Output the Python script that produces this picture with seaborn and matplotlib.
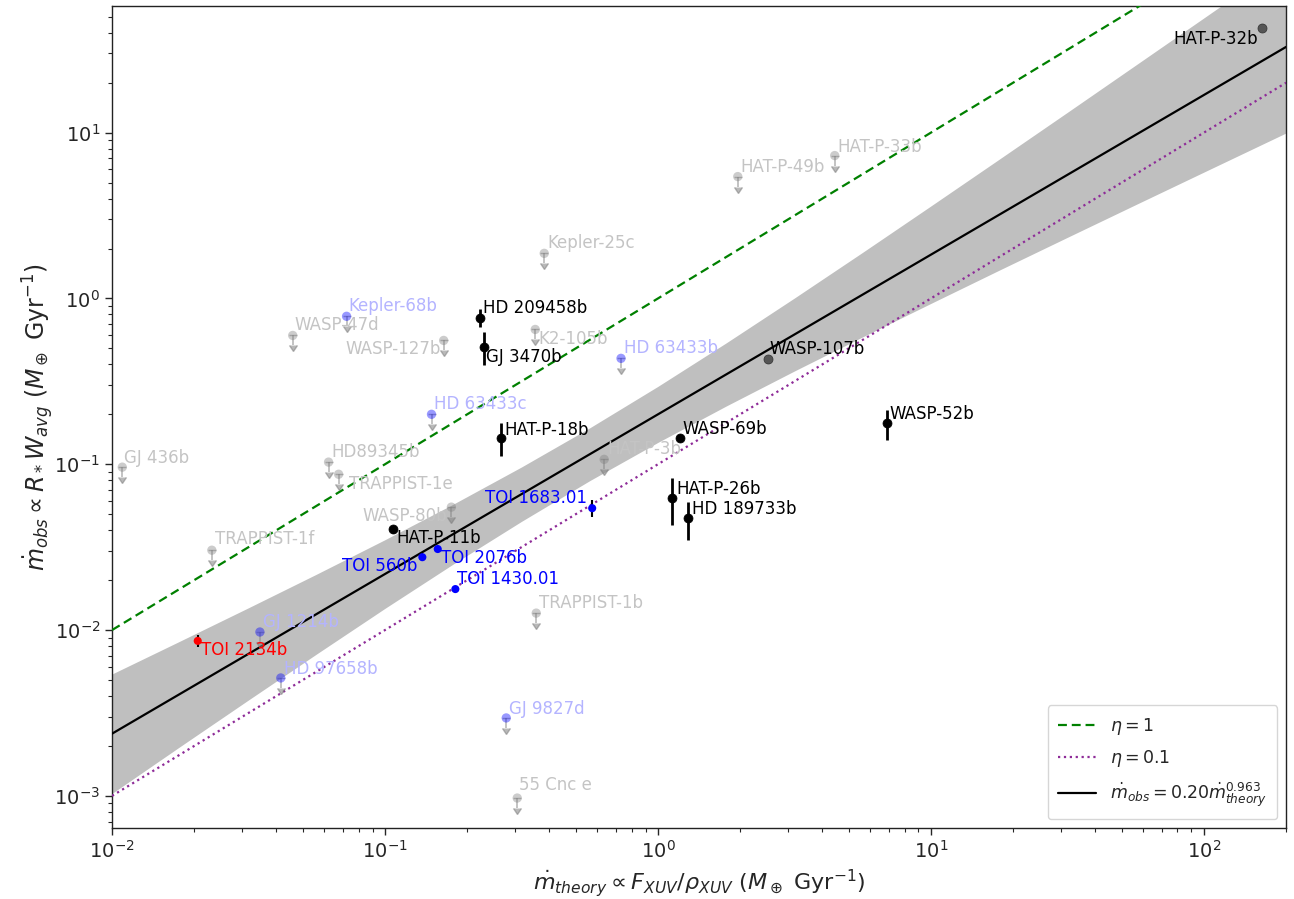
import numpy as np
import pandas as pd
import matplotlib
matplotlib.use("Agg")
import matplotlib.pyplot as plt
import seaborn as sns

# ---- measured outflow detections ------------------------------------------
det_names = ["HAT-P-32b", "HD 209458b", "GJ 3470b", "WASP-107b", "HAT-P-18b",
             "WASP-69b", "WASP-52b", "HAT-P-26b", "HD 189733b", "HAT-P-11b"]
det_x = [163.0, 0.222, 0.231, 2.52, 0.267, 1.20, 6.93, 1.125, 1.29, 0.107]
det_y = [42.9, 0.758, 0.507, 0.43, 0.1435, 0.1435, 0.177, 0.0624, 0.0473, 0.0406]
det_err_lo = [2.0, 0.089, 0.112, 0.02, 0.032, 0.005, 0.037, 0.0195, 0.0125, 0.002]
det_err_hi = [2.0, 0.100, 0.117, 0.02, 0.033, 0.005, 0.034, 0.020, 0.0117, 0.002]
det_faint = [True, False, False, True, False, False, False, False, False, False]

# ---- TOI targets -------------------------------------------------------------
toi_names = ["TOI 1683.01", "TOI 560b", "TOI 2076b", "TOI 1430.01", "TOI 2134b"]
toi_x = [0.574, 0.137, 0.156, 0.181, 0.0206]
toi_y = [0.0543, 0.0275, 0.0308, 0.01766, 0.0086]
toi_err = [0.0063, 0.0015, 0.0012, 0.0005, 0.0007]
toi_color = ["blue", "blue", "blue", "blue", "red"]

# ---- non-detections (upper limits) -----------------------------------------
lim_names = ["GJ 436b", "WASP-47d", "Kepler-68b", "WASP-127b", "Kepler-25c",
             "K2-105b", "HD 63433b", "HD 63433c", "HAT-P-49b", "HAT-P-33b",
             "HD89345b", "TRAPPIST-1e", "HAT-P-3b", "WASP-80b", "TRAPPIST-1f",
             "GJ 1214b", "HD 97658b", "TRAPPIST-1b", "GJ 9827d", "55 Cnc e"]
lim_x = [0.0109, 0.0459, 0.0723, 0.164, 0.383,
         0.355, 0.732, 0.148, 1.96, 4.44,
         0.0621, 0.0676, 0.635, 0.175, 0.0232,
         0.0348, 0.0415, 0.358, 0.278, 0.305]
lim_y = [0.096, 0.598, 0.78, 0.558, 1.87,
         0.65, 0.435, 0.20, 5.43, 7.27,
         0.103, 0.087, 0.107, 0.0551, 0.0303,
         0.00973, 0.00514, 0.01265, 0.00295, 0.00097]
lim_kind = ["gray", "gray", "blue", "gray", "gray",
            "gray", "blue", "blue", "gray", "gray",
            "gray", "gray", "gray", "gray", "gray",
            "blue", "blue", "gray", "blue", "gray"]

# ---- power-law fit and its confidence band ---------------------------------
fit_amp = 0.20
fit_index = 0.963
band_x = [0.01, 0.01778, 0.03162, 0.05623, 0.1, 0.1778, 0.3162, 0.5623, 1.0,
          1.778, 3.162, 5.623, 10.0, 17.78, 31.62, 56.23, 100.0, 200.0]
band_lo = [0.001035, 0.001986, 0.003788, 0.007183, 0.01352, 0.02501, 0.04522,
           0.07961, 0.1355, 0.2245, 0.3652, 0.5865, 0.9333, 1.480, 2.336, 3.678,
           5.781, 9.954]
band_hi = [0.005433, 0.008590, 0.01363, 0.02176, 0.03508, 0.05744, 0.09627,
           0.1658, 0.2951, 0.5395, 1.006, 1.898, 3.614, 6.911, 13.26, 25.53,
           49.20, 108.6]

# efficiency reference lines
eta_values = [1.0, 0.1]

# label placement (pixel offsets from the point, horizontal alignment)
det_label_pos = [(-4, -16, "right"), (3, 5, "left"), (2, -15, "left"), (2, 5, "left"),
                 (3, 3, "left"), (3, 4, "left"), (2, 4, "left"), (4, 4, "left"),
                 (4, 4, "left"), (3, -14, "left")]
toi_label_pos = [(-5, 5, "right"), (-5, -14, "right"), (3, -14, "left"),
                 (2, 5, "left"), (3, -14, "left")]
lim_label_pos = [(2, 4, "left"), (2, 5, "left"), (2, 5, "left"), (-3, -14, "right"),
                 (3, 5, "left"), (3, -15, "left"), (3, 5, "left"), (2, 5, "left"),
                 (3, 5, "left"), (3, 4, "left"), (3, 5, "left"), (10, -15, "left"),
                 (3, 5, "left"), (-4, -14, "right"), (3, 6, "left"), (3, 5, "left"),
                 (3, 4, "left"), (3, 5, "left"), (3, 4, "left"), (2, 8, "left")]

sns.set_style("ticks")
plt.rcParams["font.family"] = ["DejaVu Sans"]
plt.rcParams["mathtext.fontset"] = "dejavusans"
plt.rcParams["xtick.direction"] = "out"
plt.rcParams["ytick.direction"] = "out"

fig = plt.figure(figsize=(12.94, 8.99), dpi=100)
ax = fig.add_axes([0.0866, 0.079, 0.9073, 0.9143])
ax.set_xscale("log")
ax.set_yscale("log")

xmin, xmax = 0.01, 200.0
ymin, ymax = 6.4e-4, 58.0
grid = np.logspace(np.log10(xmin), np.log10(xmax), 100)

# confidence band of the fit
ax.fill_between(band_x, band_lo, band_hi, color="gray", alpha=0.5, lw=0, zorder=1)

# reference lines and fitted relation
lines = pd.DataFrame({
    "x": np.concatenate([grid, grid, grid]),
    "y": np.concatenate([eta_values[0] * grid, eta_values[1] * grid,
                         fit_amp * grid ** fit_index]),
    "curve": [r"$\eta=1$"] * len(grid) + [r"$\eta=0.1$"] * len(grid)
             + [r"$\dot{m}_{obs}=0.20\dot{m}_{theory}^{0.963}$"] * len(grid),
})
sns.lineplot(data=lines, x="x", y="y", hue="curve", style="curve",
             palette=["green", "#8e2b98", "black"],
             dashes=[(4, 2.2), (1, 1.65), ""], linewidth=1.6,
             ax=ax, zorder=3, estimator=None, sort=False)

# upper limits: marker plus downward arrow
lim_df = pd.DataFrame({"x": lim_x, "y": lim_y, "kind": lim_kind})
lim_arr = np.array(lim_y)
ax.errorbar(lim_x, lim_y, yerr=0.13 * lim_arr, uplims=True, fmt="none",
            color="#808080", ecolor="#808080", elinewidth=1.2, capsize=3,
            alpha=0.55, zorder=4)
sns.scatterplot(data=lim_df, x="x", y="y", hue="kind",
                palette={"gray": "gray", "blue": "blue"}, s=45,
                edgecolor="none", alpha=0.4, legend=False, ax=ax, zorder=5)

# detections
ax.errorbar(det_x, det_y, yerr=[det_err_lo, det_err_hi], fmt="none",
            color="black", ecolor="black", elinewidth=2, capsize=0, zorder=6)
det_df = pd.DataFrame({"x": det_x, "y": det_y, "faint": det_faint})
sns.scatterplot(data=det_df[~det_df["faint"]], x="x", y="y", color="black", s=42,
                edgecolor="black", legend=False, ax=ax, zorder=7)
sns.scatterplot(data=det_df[det_df["faint"]], x="x", y="y", color="#555555", s=42,
                edgecolor="#333333", legend=False, ax=ax, zorder=7)

# TOI targets
ax.errorbar(toi_x, toi_y, yerr=toi_err, fmt="none", color="black",
            ecolor="black", elinewidth=1.5, capsize=0, zorder=6)
toi_df = pd.DataFrame({"x": toi_x, "y": toi_y, "c": toi_color})
sns.scatterplot(data=toi_df, x="x", y="y", hue="c",
                palette={"blue": "blue", "red": "red"}, s=34,
                edgecolor="none", legend=False, ax=ax, zorder=7)

# text labels
for name, x, y, (dx, dy, ha) in zip(det_names, det_x, det_y, det_label_pos):
    ax.annotate(name, (x, y), xytext=(dx, dy), textcoords="offset pixels",
                ha=ha, va="baseline", fontsize=12, color="black", zorder=8)
for name, x, y, c, (dx, dy, ha) in zip(toi_names, toi_x, toi_y, toi_color, toi_label_pos):
    ax.annotate(name, (x, y), xytext=(dx, dy), textcoords="offset pixels",
                ha=ha, va="baseline", fontsize=12, color=c, zorder=8)
for name, x, y, k, (dx, dy, ha) in zip(lim_names, lim_x, lim_y, lim_kind, lim_label_pos):
    col = "#b4b4ff" if k == "blue" else "#c4c4c4"
    ax.annotate(name, (x, y), xytext=(dx, dy), textcoords="offset pixels",
                ha=ha, va="baseline", fontsize=12, color=col, zorder=8)

ax.set_xlim(xmin, xmax)
ax.set_ylim(ymin, ymax)
ax.tick_params(axis="both", which="major", labelsize=14, length=5, width=1)
ax.tick_params(axis="both", which="minor", length=3, width=0.8)
for sp in ax.spines.values():
    sp.set_linewidth(1.0)
    sp.set_color("#222222")

ax.set_xlabel(r"$\dot{m}_{theory} \propto F_{XUV}/\rho_{XUV}$ $(M_\oplus$ Gyr$^{-1})$",
              fontsize=16)
ax.set_ylabel(r"$\dot{m}_{obs} \propto R_* W_{avg}$ $(M_\oplus$ Gyr$^{-1})$",
              fontsize=17, labelpad=-1)

leg = ax.legend(loc="lower right", fontsize=12.5, frameon=True, handlelength=2.2,
                labelspacing=0.65, borderpad=0.6)
leg.get_frame().set_edgecolor("#cccccc")

fig.savefig("out.png", dpi=100)
